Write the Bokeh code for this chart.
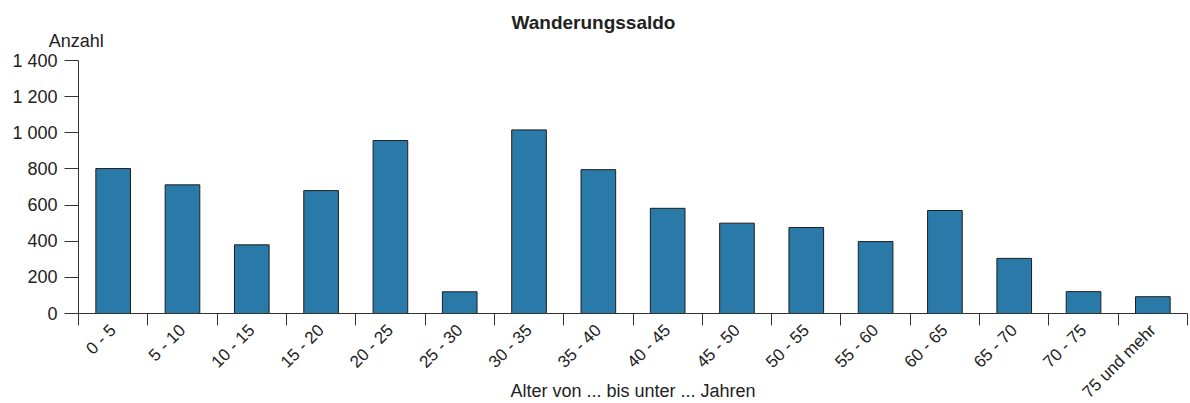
import math
from bokeh.plotting import figure
from bokeh.models import Range1d, FixedTicker, Label, LinearAxis
from bokeh.embed import file_html
from bokeh.resources import INLINE

categories = ["0 - 5", "5 - 10", "10 - 15", "15 - 20", "20 - 25", "25 - 30", "30 - 35",
              "35 - 40", "40 - 45", "45 - 50", "50 - 55", "55 - 60", "60 - 65", "65 - 70",
              "70 - 75", "75 und mehr"]
values = [802, 712, 380, 680, 957, 120, 1016, 796, 582, 500, 476, 398, 570, 305, 121, 93]
y_ticks = [0, 200, 400, 600, 800, 1000, 1200, 1400]
y_tick_labels = ["0", "200", "400", "600", "800", "1 000", "1 200", "1 400"]

title_text = "Wanderungssaldo"
y_label_text = "Anzahl"
x_label_text = "Alter von ... bis unter ... Jahren"

FONT = "Liberation Sans"
TXT = "#222222"
AX = "#333333"
BAR = "#2a7aa9"

n = len(categories)
centers = [i + 0.5 for i in range(n)]
y_max = 1400

W, H = 1190, 403
# pixel layout of the plotting area inside the canvas
left_px, right_px, top_px, bottom_px = 78, 1187, 60, 313
kx = (right_px - left_px) / n
ky = (bottom_px - top_px) / y_max
x_range = Range1d(-left_px / kx, (W - left_px) / kx)
y_range = Range1d(-(H - bottom_px) / ky, bottom_px / ky)

p = figure(width=W, height=H, output_backend="svg", toolbar_location=None,
           x_range=x_range, y_range=y_range, x_axis_type=None, y_axis_type=None,
           min_border=0)
p.outline_line_color = None
p.grid.visible = False

p.vbar(x=centers, top=values, width=0.5, bottom=0,
       fill_color=BAR, line_color="#1e1e1e", line_width=1)

# x axis
xa = LinearAxis(fixed_location=0, bounds=(0, n))
xa.ticker = FixedTicker(ticks=centers, minor_ticks=list(range(n + 1)))
xa.major_label_overrides = {c: lab for c, lab in zip(centers, categories)}
xa.major_label_orientation = math.pi / 4
xa.major_tick_line_color = None
xa.major_tick_in = 0
xa.major_tick_out = 12
xa.minor_tick_in = 0
xa.minor_tick_out = 12
xa.minor_tick_line_color = AX
xa.axis_line_color = AX
xa.major_label_standoff = 2
xa.major_label_text_font = FONT
xa.major_label_text_font_size = "17px"
xa.major_label_text_color = TXT
p.add_layout(xa, "below")

# y axis
ya = LinearAxis(fixed_location=0, bounds=(0, y_max))
ya.ticker = FixedTicker(ticks=y_ticks)
ya.major_label_overrides = {t: lab for t, lab in zip(y_ticks, y_tick_labels)}
ya.major_tick_in = 0
ya.major_tick_out = 14
ya.minor_tick_line_color = None
ya.major_tick_line_color = AX
ya.axis_line_color = AX
ya.major_label_standoff = 7
ya.major_label_text_font = FONT
ya.major_label_text_font_size = "18px"
ya.major_label_text_color = TXT
p.add_layout(ya, "left")

p.add_layout(Label(x=7.43, y=1612, text=title_text, text_font=FONT, text_font_size="19px",
                   text_font_style="bold", text_align="center", text_baseline="alphabetic",
                   text_color=TXT))
p.add_layout(Label(x=-0.43, y=1506, text=y_label_text, text_font=FONT, text_font_size="18px",
                   text_align="left", text_baseline="alphabetic", text_color=TXT))
p.add_layout(Label(x=8.0, y=-430, text=x_label_text, text_font=FONT, text_font_size="18px",
                   text_align="center", text_baseline="alphabetic", text_color=TXT))

open("out.html", "w").write(file_html(p, INLINE))
